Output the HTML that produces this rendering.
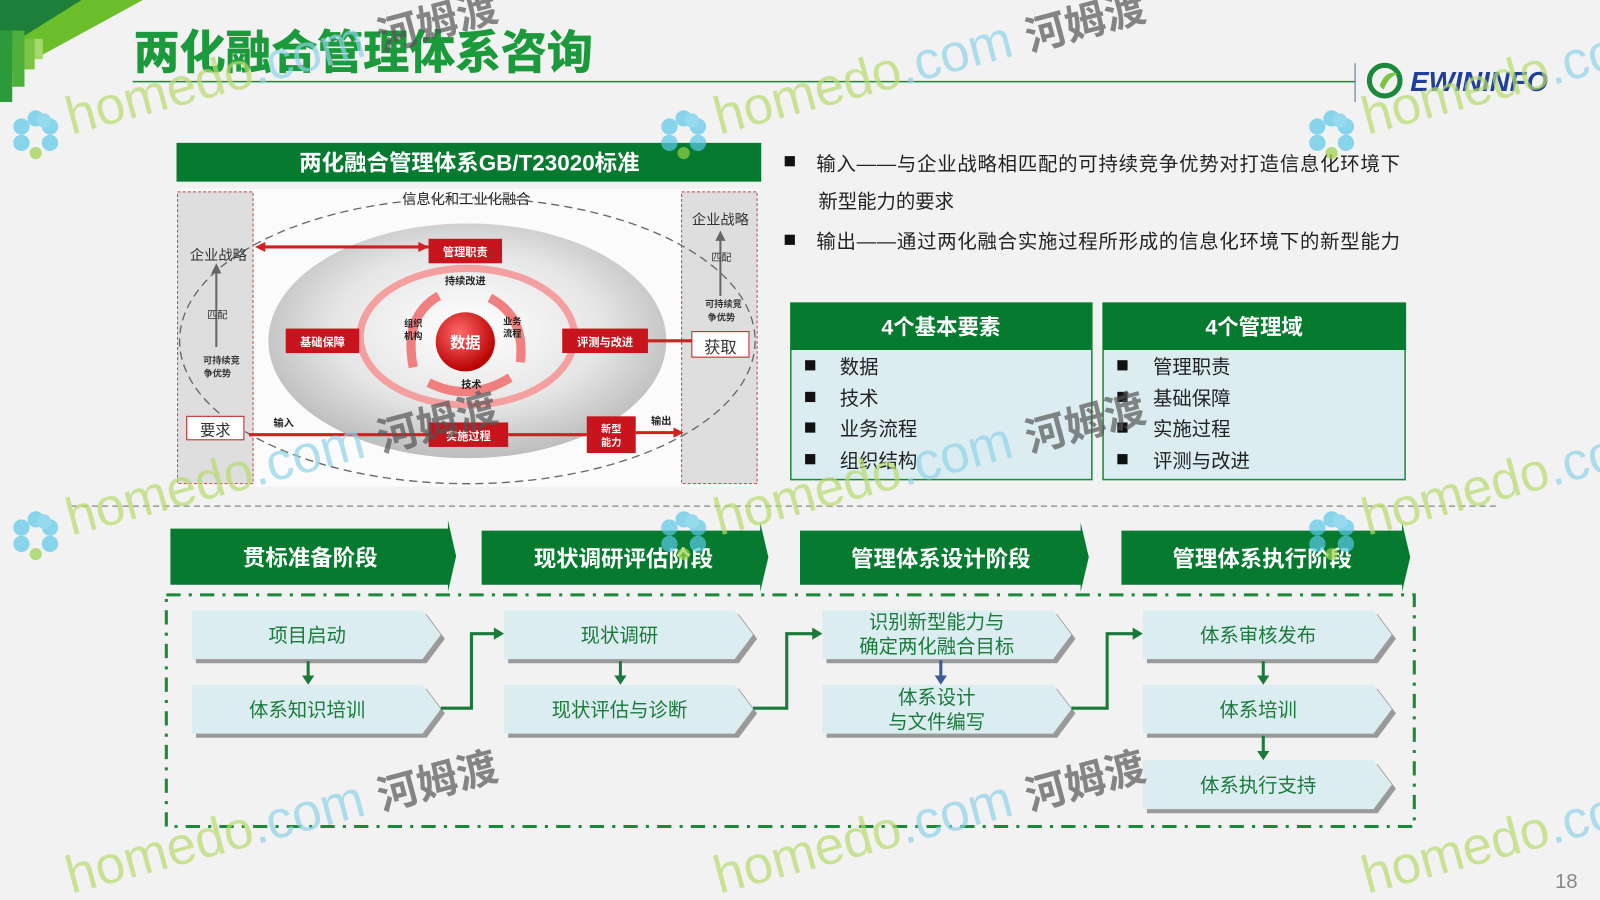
<!DOCTYPE html>
<html><head><meta charset="utf-8">
<style>
html,body{margin:0;padding:0;background:#f2f2f2;width:1600px;height:900px;overflow:hidden;}
svg{display:block;}
text{font-family:"Liberation Sans","Noto Sans CJK SC",sans-serif;}
</style></head>
<body>
<svg width="1600" height="900" viewBox="0 0 1568 882" preserveAspectRatio="none" xmlns="http://www.w3.org/2000/svg">
<defs>
<clipPath id="cp"><rect width="1568" height="882"/></clipPath>
<radialGradient id="eg" cx="50%" cy="45%" r="55%">
<stop offset="0" stop-color="#ffffff"/><stop offset="0.6" stop-color="#e6e6e6"/><stop offset="1" stop-color="#bdbdbd"/>
</radialGradient>
<radialGradient id="rd" cx="40%" cy="35%" r="65%">
<stop offset="0" stop-color="#ff6b6b"/><stop offset="1" stop-color="#b80000"/>
</radialGradient>
<g id="flower">
<circle cx="0" cy="-16" r="8" fill="#5bc8e8"/><circle cx="14" cy="-8" r="8" fill="#5bc8e8"/>
<circle cx="14" cy="8" r="8" fill="#5bc8e8"/><circle cx="-14" cy="-8" r="8" fill="#5bc8e8"/>
<circle cx="-14" cy="8" r="8" fill="#5bc8e8"/><circle cx="8" cy="-14" r="7" fill="#6fd0ec"/>
<circle cx="0" cy="18" r="6" fill="#9bd24a"/>
</g>
<g id="wmt">
<text x="0" y="0" font-size="52" fill="#b6dc6e" transform="rotate(-15)">homedo<tspan fill="#8fd3ea">.com</tspan> <tspan fill="#555" font-weight="bold" font-size="40">河姆渡</tspan></text>
</g>
<g id="wm">
<use href="#flower" x="-35" y="0"/>
<use href="#wmt"/>
</g>
</defs>
<g clip-path="url(#cp)">
<rect width="1568" height="882" fill="#f2f2f2"/>

<polygon points="0,0 140,0 30,60 0,80" fill="#6cbf2a"/>
<polygon points="0,0 80,0 0,50" fill="#1e7f3a"/>
<rect x="0" y="30" width="12" height="70" fill="#2c9a3a"/>
<rect x="12" y="30" width="12" height="55" fill="#4cb03a"/>
<rect x="24" y="38" width="10" height="30" fill="#7cc443"/>
<rect x="34" y="38" width="8" height="20" fill="#a5d86a"/>

<text x="131" y="67" font-size="45" font-weight="bold" fill="#1a9a3a" stroke="#1a9a3a" stroke-width="0.8">两化融合管理体系咨询</text>
<line x1="130" y1="80" x2="1328" y2="80" stroke="#1a8a3a" stroke-width="1.5"/>
<line x1="1328" y1="62" x2="1328" y2="100" stroke="#4a6fa0" stroke-width="1"/>
<circle cx="1357" cy="79" r="15" fill="none" stroke="#1a8a3a" stroke-width="5"/>
<path d="M1352 84 Q1358 68 1370 72 Q1360 76 1356 88Z" fill="#7cc443"/>
<text x="1382" y="89" font-size="27" font-weight="bold" font-style="italic" fill="#1f3f9a">EWININFO</text>

<rect x="173" y="140" width="573" height="38" fill="#067a2e"/>
<text x="460" y="167" font-size="22" font-weight="bold" fill="#fff" text-anchor="middle">两化融合管理体系GB/T23020标准</text>

<rect x="173" y="185" width="570" height="292" fill="#fbfbfb"/>
<rect x="174" y="188" width="74" height="286" fill="#dedede" stroke="#d04040" stroke-width="1" stroke-dasharray="3,2"/>
<rect x="668" y="188" width="74" height="286" fill="#dedede" stroke="#d04040" stroke-width="1" stroke-dasharray="3,2"/>
<text x="457" y="200" font-size="14" fill="#222" text-anchor="middle">信息化和工业化融合</text>
<ellipse cx="458" cy="334" rx="195" ry="115" fill="url(#eg)"/>
<ellipse cx="458" cy="334" rx="282" ry="140" fill="none" stroke="#666" stroke-width="1.3" stroke-dasharray="8,5"/>
<ellipse cx="458" cy="330" rx="105" ry="67" fill="none" stroke="#f4a0a0" stroke-width="7"/>
<path d="M430 290 Q395 310 405 360" fill="none" stroke="#f08080" stroke-width="9"/>
<path d="M420 375 Q460 395 500 370" fill="none" stroke="#f08080" stroke-width="9"/>
<path d="M510 355 Q515 310 480 292" fill="none" stroke="#f08080" stroke-width="9"/>
<circle cx="456" cy="335" r="29" fill="url(#rd)"/>
<text x="456" y="341" font-size="15" font-weight="bold" fill="#fff" text-anchor="middle">数据</text>
<text x="456" y="279" font-size="10" font-weight="bold" fill="#222" text-anchor="middle">持续改进</text>
<text x="462" y="380" font-size="10" font-weight="bold" fill="#222" text-anchor="middle">技术</text>
<text x="405" y="320" font-size="9" font-weight="bold" fill="#222" text-anchor="middle">组织</text>
<text x="405" y="332" font-size="9" font-weight="bold" fill="#222" text-anchor="middle">机构</text>
<text x="502" y="318" font-size="9" font-weight="bold" fill="#222" text-anchor="middle">业务</text>
<text x="502" y="330" font-size="9" font-weight="bold" fill="#222" text-anchor="middle">流程</text>
<rect x="420" y="234" width="72" height="24" fill="#c8141c"/><text x="456" y="251" font-size="11" font-weight="bold" fill="#fff" text-anchor="middle">管理职责</text>
<rect x="280" y="322" width="72" height="24" fill="#c8141c"/><text x="316" y="339" font-size="11" font-weight="bold" fill="#fff" text-anchor="middle">基础保障</text>
<rect x="551" y="322" width="84" height="24" fill="#c8141c"/><text x="593" y="339" font-size="11" font-weight="bold" fill="#fff" text-anchor="middle">评测与改进</text>
<rect x="420" y="414" width="78" height="24" fill="#c8141c"/><text x="459" y="431" font-size="11" font-weight="bold" fill="#fff" text-anchor="middle">实施过程</text>
<rect x="575" y="408" width="48" height="36" fill="#c8141c"/><text x="599" y="424" font-size="10" font-weight="bold" fill="#fff" text-anchor="middle">新型</text><text x="599" y="437" font-size="10" font-weight="bold" fill="#fff" text-anchor="middle">能力</text>
<line x1="255" y1="242" x2="420" y2="242" stroke="#d02020" stroke-width="3"/>
<polygon points="250,242 260,237 260,247" fill="#d02020"/><polygon points="420,242 410,237 410,247" fill="#d02020"/>
<line x1="244" y1="426" x2="420" y2="426" stroke="#d02020" stroke-width="3"/>
<line x1="498" y1="426" x2="575" y2="426" stroke="#d02020" stroke-width="3"/>
<line x1="623" y1="424" x2="665" y2="424" stroke="#d02020" stroke-width="3"/>
<polygon points="670,424 660,419 660,429" fill="#d02020"/>
<line x1="635" y1="334" x2="678" y2="334" stroke="#d02020" stroke-width="3"/>
<text x="268" y="418" font-size="10" font-weight="bold" fill="#222">输入</text>
<text x="638" y="416" font-size="10" font-weight="bold" fill="#222">输出</text>
<text x="214" y="255" font-size="14" fill="#333" text-anchor="middle">企业战略</text>
<line x1="212" y1="262" x2="212" y2="340" stroke="#666" stroke-width="2"/>
<polygon points="212,258 207,268 217,268" fill="#666"/>
<text x="213" y="312" font-size="10" fill="#333" text-anchor="middle">匹配</text>
<text x="217" y="356" font-size="9" font-weight="bold" fill="#333" text-anchor="middle">可持续竞</text>
<text x="213" y="369" font-size="9" font-weight="bold" fill="#333" text-anchor="middle">争优势</text>
<rect x="183" y="408" width="56" height="23" fill="#fff" stroke="#c02020"/>
<text x="211" y="427" font-size="15" fill="#333" text-anchor="middle">要求</text>
<text x="706" y="220" font-size="14" fill="#333" text-anchor="middle">企业战略</text>
<line x1="706" y1="230" x2="706" y2="290" stroke="#666" stroke-width="2"/>
<polygon points="706,226 701,236 711,236" fill="#666"/>
<text x="707" y="256" font-size="10" fill="#333" text-anchor="middle">匹配</text>
<text x="709" y="301" font-size="9" font-weight="bold" fill="#333" text-anchor="middle">可持续竞</text>
<text x="707" y="314" font-size="9" font-weight="bold" fill="#333" text-anchor="middle">争优势</text>
<rect x="678" y="325" width="56" height="25" fill="#fff" stroke="#c02020"/>
<text x="706" y="346" font-size="16" fill="#333" text-anchor="middle">获取</text>

<rect x="769" y="153" width="10" height="10" fill="#111"/>
<text x="800" y="167" font-size="19" fill="#222" textLength="572">输入——与企业战略相匹配的可持续竞争优势对打造信息化环境下</text>
<text x="802" y="204" font-size="19" fill="#222">新型能力的要求</text>
<rect x="769" y="230" width="10" height="10" fill="#111"/>
<text x="800" y="243" font-size="19" fill="#222" textLength="572">输出——通过两化融合实施过程所形成的信息化环境下的新型能力</text>

<rect x="775" y="297" width="295" height="173" fill="#dcedf2" stroke="#1a8a3a" stroke-width="1.5"/>
<rect x="775" y="297" width="295" height="46" fill="#067a2e"/>
<text x="922" y="328" font-size="21" font-weight="bold" fill="#fff" text-anchor="middle">4个基本要素</text>
<g font-size="19" fill="#222">
<rect x="789" y="353" width="10" height="10" fill="#111"/><text x="823" y="366">数据</text>
<rect x="789" y="384" width="10" height="10" fill="#111"/><text x="823" y="397">技术</text>
<rect x="789" y="414" width="10" height="10" fill="#111"/><text x="823" y="427">业务流程</text>
<rect x="789" y="445" width="10" height="10" fill="#111"/><text x="823" y="458">组织结构</text>
</g>
<rect x="1081" y="297" width="296" height="173" fill="#dcedf2" stroke="#1a8a3a" stroke-width="1.5"/>
<rect x="1081" y="297" width="297" height="46" fill="#067a2e"/>
<text x="1229" y="328" font-size="21" font-weight="bold" fill="#fff" text-anchor="middle">4个管理域</text>
<g font-size="19" fill="#222">
<rect x="1095" y="353" width="10" height="10" fill="#111"/><text x="1130" y="366">管理职责</text>
<rect x="1095" y="384" width="10" height="10" fill="#111"/><text x="1130" y="397">基础保障</text>
<rect x="1095" y="414" width="10" height="10" fill="#111"/><text x="1130" y="427">实施过程</text>
<rect x="1095" y="445" width="10" height="10" fill="#111"/><text x="1130" y="458">评测与改进</text>
</g>

<line x1="70" y1="496" x2="1470" y2="496" stroke="#999" stroke-width="1.5" stroke-dasharray="6,4"/>

<g fill="#067a2e">
<path d="M167 518 L439 518 L439 510 L447 545 L439 580 L439 573 L167 573Z"/>
<path d="M472 520 L745 520 L745 512 L753 546 L745 580 L745 573 L472 573Z"/>
<path d="M784 520 L1059 520 L1059 512 L1067 546 L1059 580 L1059 573 L784 573Z"/>
<path d="M1099 520 L1374 520 L1374 512 L1382 546 L1374 580 L1374 573 L1099 573Z"/>
</g>
<g font-size="22" font-weight="bold" fill="#fff" text-anchor="middle">
<text x="304" y="554">贯标准备阶段</text>
<text x="611" y="555">现状调研评估阶段</text>
<text x="922" y="555">管理体系设计阶段</text>
<text x="1237" y="555">管理体系执行阶段</text>
</g>

<rect x="163" y="583" width="1223" height="227" fill="none" stroke="#1a8a3a" stroke-width="3" stroke-dasharray="14,8,3,8"/>

<g fill="#9a9a9a">
<path d="M192 602 L418 602 L436 626 L418 650 L192 650Z"/>
<path d="M192 675 L418 675 L436 699 L418 723 L192 723Z"/>
<path d="M498 602 L724 602 L742 626 L724 650 L498 650Z"/>
<path d="M498 675 L724 675 L742 699 L724 723 L498 723Z"/>
<path d="M810 602 L1036 602 L1054 626 L1036 650 L810 650Z"/>
<path d="M810 675 L1036 675 L1054 699 L1036 723 L810 723Z"/>
<path d="M1124 602 L1350 602 L1368 626 L1350 650 L1124 650Z"/>
<path d="M1124 675 L1350 675 L1368 699 L1350 723 L1124 723Z"/>
<path d="M1124 749 L1350 749 L1368 773 L1350 797 L1124 797Z"/>
</g>
<g fill="#dcedf2">
<path d="M188 598 L414 598 L432 622 L414 646 L188 646Z"/>
<path d="M188 671 L414 671 L432 695 L414 719 L188 719Z"/>
<path d="M494 598 L720 598 L738 622 L720 646 L494 646Z"/>
<path d="M494 671 L720 671 L738 695 L720 719 L494 719Z"/>
<path d="M806 598 L1032 598 L1050 622 L1032 646 L806 646Z"/>
<path d="M806 671 L1032 671 L1050 695 L1032 719 L806 719Z"/>
<path d="M1120 598 L1346 598 L1364 622 L1346 646 L1120 646Z"/>
<path d="M1120 671 L1346 671 L1364 695 L1346 719 L1120 719Z"/>
<path d="M1120 745 L1346 745 L1364 769 L1346 793 L1120 793Z"/>
</g>
<g font-size="19" fill="#1a7a3a" text-anchor="middle">
<text x="301" y="629">项目启动</text>
<text x="301" y="702">体系知识培训</text>
<text x="607" y="629">现状调研</text>
<text x="607" y="702">现状评估与诊断</text>
<text x="918" y="616">识别新型能力与</text>
<text x="918" y="640">确定两化融合目标</text>
<text x="918" y="690">体系设计</text>
<text x="918" y="714">与文件编写</text>
<text x="1233" y="629">体系审核发布</text>
<text x="1233" y="702">体系培训</text>
<text x="1233" y="776">体系执行支持</text>
</g>
<g stroke="#1a7a3a" stroke-width="3" fill="#1a7a3a">
<line x1="302" y1="648" x2="302" y2="664"/><polygon points="296,662 308,662 302,671" stroke="none"/>
<line x1="608" y1="648" x2="608" y2="664"/><polygon points="602,662 614,662 608,671" stroke="none"/>
<line x1="1238" y1="648" x2="1238" y2="664"/><polygon points="1232,662 1244,662 1238,671" stroke="none"/>
<line x1="1238" y1="721" x2="1238" y2="738"/><polygon points="1232,736 1244,736 1238,745" stroke="none"/>
</g>
<line x1="922" y1="647" x2="922" y2="664" stroke="#3a5a9a" stroke-width="3"/>
<polygon points="916,662 928,662 922,671" fill="#3a5a9a"/>
<g fill="none" stroke="#1a7a3a" stroke-width="3">
<polyline points="432,694 462,694 462,621 486,621"/>
<polyline points="738,694 771,694 771,621 798,621"/>
<polyline points="1050,694 1085,694 1085,621 1112,621"/>
</g>
<g fill="#1a7a3a">
<polygon points="494,621 484,615 484,627"/>
<polygon points="806,621 796,615 796,627"/>
<polygon points="1120,621 1110,615 1110,627"/>
</g>

<g opacity="0.7">
<use href="#wm" x="70" y="132"/>
<use href="#wm" x="705" y="132"/>
<use href="#wm" x="1340" y="132"/>
<use href="#wm" x="70" y="525"/>
<use href="#wm" x="705" y="525"/>
<use href="#wm" x="1340" y="525"/>
<use href="#wmt" x="70" y="876"/>
<use href="#wmt" x="705" y="876"/>
<use href="#wmt" x="1340" y="876"/>
</g>
<text x="1535" y="870" font-size="20" fill="#888" text-anchor="middle">18</text>
</g>
</svg>
</body></html>
